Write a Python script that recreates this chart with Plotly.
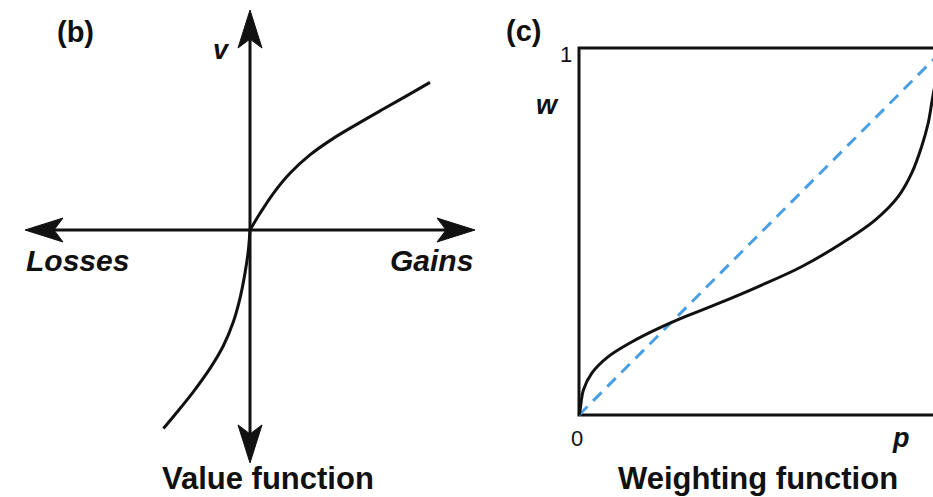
import plotly.graph_objects as go

# ---------------- data ----------------
# Panel (b): value function (x = outcome, v = value), arbitrary units
gains_x = [0, 0.056, 0.130, 0.222, 0.333, 0.463, 0.593, 0.741, 0.870, 1.0]
gains_v = [0, 0.093, 0.204, 0.315, 0.417, 0.509, 0.587, 0.672, 0.745, 0.820]
loss_x = [0, -0.009, -0.028, -0.056, -0.093, -0.148, -0.222, -0.315, -0.407, -0.481]
loss_v = [0, -0.111, -0.241, -0.381, -0.511, -0.643, -0.769, -0.899, -1.014, -1.103]

# Panel (c): probability weighting function
prob_p = [0, 0.003, 0.012, 0.035, 0.080, 0.144, 0.217, 0.290, 0.381, 0.490, 0.608,
          0.718, 0.809, 0.872, 0.909, 0.936, 0.954, 0.965, 0.978, 0.99]
weight_w = [0, 0.014, 0.068, 0.114, 0.159, 0.199, 0.236, 0.268, 0.304, 0.350, 0.404,
            0.468, 0.531, 0.595, 0.659, 0.731, 0.795, 0.858, 0.93, 1.0]
diag_p = [0, 1]
diag_w = [0, 1]

# ---------------- geometry ----------------
W, H = 933, 497
U = 180.0                     # px per unit in panel b
OX, OY = 250, 230             # origin of panel b in px
BX0, BX1, BY0, BY1 = 579, 945, 415, 48   # box of panel c in px

AX_L, AX_R = -1.25, 1.25      # horizontal axis ends (units)
AX_T, AX_B = 1.222, -1.294    # vertical axis ends (units)

FONT = "Liberation Sans, Arial, sans-serif"
INK = "#111111"
BLUE = "#4a9fe3"

fig = go.Figure()

# axis lines of panel b (stop short of the tips, heads drawn as shapes)
HL, HW, HN = 38 / U, 12 / U, 9 / U
fig.add_trace(go.Scatter(x=[AX_L + HL - HN, AX_R - HL + HN], y=[0, 0], mode="lines",
                         line=dict(color=INK, width=3), xaxis="x", yaxis="y", hoverinfo="skip"))
fig.add_trace(go.Scatter(x=[0, 0], y=[AX_B + HL - HN, AX_T - HL + HN], mode="lines",
                         line=dict(color=INK, width=3), xaxis="x", yaxis="y", hoverinfo="skip"))

# value function curve (two branches meeting at the origin)
fig.add_trace(go.Scatter(x=gains_x, y=gains_v, mode="lines",
                         line=dict(color=INK, width=3, shape="spline", smoothing=1.0),
                         xaxis="x", yaxis="y", hoverinfo="skip"))
fig.add_trace(go.Scatter(x=loss_x, y=loss_v, mode="lines",
                         line=dict(color=INK, width=3, shape="spline", smoothing=1.0),
                         xaxis="x", yaxis="y", hoverinfo="skip"))

# panel c
fig.add_trace(go.Scatter(x=diag_p, y=diag_w, mode="lines",
                         line=dict(color=BLUE, width=3, dash="12px,8px"),
                         xaxis="x2", yaxis="y2", hoverinfo="skip"))
fig.add_trace(go.Scatter(x=prob_p, y=weight_w, mode="lines",
                         line=dict(color=INK, width=3, shape="spline", smoothing=1.0),
                         xaxis="x2", yaxis="y2", hoverinfo="skip"))


def head(tx, ty, dx, dy):
    """Arrow head path with tip at (tx,ty) pointing along (dx,dy) unit vector."""
    px, py = -dy, dx
    bx, by = tx - dx * HL, ty - dy * HL
    nx, ny = tx - dx * (HL - HN), ty - dy * (HL - HN)
    pts = [(tx, ty), (bx + px * HW, by + py * HW), (nx, ny), (bx - px * HW, by - py * HW)]
    return "M " + " L ".join(f"{a:.5f},{b:.5f}" for a, b in pts) + " Z"


shapes = []
for tx, ty, dx, dy in [(AX_R, 0, 1, 0), (AX_L, 0, -1, 0), (0, AX_T, 0, 1), (0, AX_B, 0, -1)]:
    shapes.append(dict(type="path", path=head(tx, ty, dx, dy), xref="x", yref="y",
                       fillcolor=INK, line=dict(color=INK, width=1)))
# box of panel c
shapes.append(dict(type="rect", x0=0, x1=1, y0=0, y1=1, xref="x2", yref="y2",
                   line=dict(color=INK, width=3), layer="below"))


def paper(x, y):
    return x / W, 1 - y / H


annots = []


def label(text, x, y, size, xanchor="center"):
    px_, py_ = paper(x, y)
    annots.append(dict(text=text, x=px_, y=py_, xref="paper", yref="paper", showarrow=False,
                       xanchor=xanchor, yanchor="middle", font=dict(family=FONT, size=size, color=INK)))


label("<b>(b)</b>", 75, 32, 29)
label("<b><i>v</i></b>", 221, 50, 27)
label("<b><i>Losses</i></b>", 77, 260, 30)
label("<b><i>Gains</i></b>", 431, 260, 30)
label("<b>Value function</b>", 268, 478, 31)
label("<b>(c)</b>", 523, 31, 29)
label("1", 566, 54, 22)
label("<b><i>w</i></b>", 547, 105, 27)
label("0", 577, 438, 22)
label("<b><i>p</i></b>", 901, 438, 27)
label("<b>Weighting function</b>", 758, 478, 31)

fig.update_layout(
    width=W, height=H, margin=dict(l=0, r=0, t=0, b=0, pad=0),
    paper_bgcolor="white", plot_bgcolor="white", showlegend=False,
    shapes=shapes, annotations=annots,
    xaxis=dict(domain=[0, 480 / W], range=[-OX / U, (480 - OX) / U], visible=False, fixedrange=True),
    yaxis=dict(domain=[0, 1], range=[-(H - OY) / U, OY / U], visible=False, fixedrange=True),
    xaxis2=dict(domain=[520 / W, 1], range=[(520 - BX0) / (BX1 - BX0), (W - BX0) / (BX1 - BX0)],
                visible=False, fixedrange=True),
    yaxis2=dict(domain=[0, 1], range=[-(H - BY0) / (BY0 - BY1), BY0 / (BY0 - BY1)],
                visible=False, fixedrange=True, anchor="x2"),
)

fig.write_html("out.html")
